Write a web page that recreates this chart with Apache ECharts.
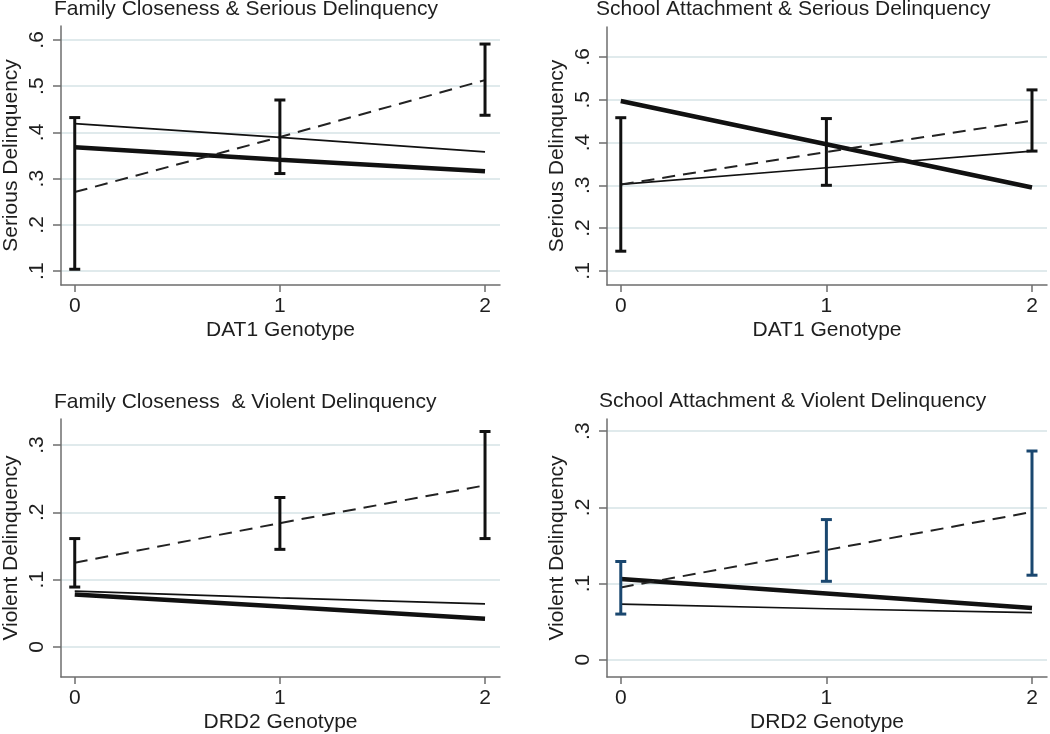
<!DOCTYPE html>
<html>
<head>
<meta charset="utf-8">
<title>Delinquency by genotype</title>
<script src="https://cdn.jsdelivr.net/npm/echarts@6/dist/echarts.min.js"></script>
<style>
  html, body { margin: 0; padding: 0; background: #fff; }
  #chart { width: 1050px; height: 734px; }
</style>
</head>
<body>
<div id="chart"></div>
<script>
// genotype categories (x axis)
const genotypes = [0, 1, 2];
const xTicks = [0, 1, 2];
const seriousTicks = [0.1, 0.2, 0.3, 0.4, 0.5, 0.6];
const violentTicks = [0, 0.1, 0.2, 0.3];

// Family Closeness & Serious Delinquency (DAT1)
const fcSeriousDashed = [0.271, 0.39, 0.513];
const fcSeriousThin = [0.419, 0.389, 0.358];
const fcSeriousThick = [0.368, 0.341, 0.316];
const fcSeriousLow = [0.104, 0.311, 0.437];
const fcSeriousHigh = [0.432, 0.47, 0.591];

// School Attachment & Serious Delinquency (DAT1)
const saSeriousDashed = [0.302, 0.378, 0.451];
const saSeriousThin = [0.302, 0.341, 0.38];
const saSeriousThick = [0.497, 0.396, 0.295];
const saSeriousLow = [0.146, 0.3, 0.38];
const saSeriousHigh = [0.458, 0.456, 0.523];

// Family Closeness & Violent Delinquency (DRD2)
const fcViolentDashed = [0.125, 0.184, 0.24];
const fcViolentThin = [0.083, 0.073, 0.064];
const fcViolentThick = [0.078, 0.06, 0.042];
const fcViolentLow = [0.089, 0.145, 0.161];
const fcViolentHigh = [0.161, 0.222, 0.32];

// School Attachment & Violent Delinquency (DRD2)
const saViolentDashed = [0.095, 0.144, 0.194];
const saViolentThin = [0.073, 0.067, 0.062];
const saViolentThick = [0.106, 0.087, 0.068];
const saViolentLow = [0.06, 0.103, 0.111];
const saViolentHigh = [0.129, 0.184, 0.274];

const font = '"Liberation Sans", Arial, sans-serif';
const textColor = "#1e1e1e";
const axisGrey = "#6e6e6e";
const gridColor = "#e0eaec";

const panels = [
  {
    title: "Family Closeness & Serious Delinquency",
    titlePos: { left: 54, top: -1 },
    grid: { left: 59, right: 550, top: 26, bottom: 449 },
    xName: "DAT1 Genotype", yName: "Serious Delinquency",
    yMin: 0.07, yMax: 0.63, yTicks: seriousTicks,
    dashed: fcSeriousDashed, thin: fcSeriousThin, thick: fcSeriousThick,
    low: fcSeriousLow, high: fcSeriousHigh, barColor: "#111111",
  },
  {
    title: "School Attachment & Serious Delinquency",
    titlePos: { left: 596, top: -1 },
    grid: { left: 607, right: 3, top: 27, bottom: 449 },
    xName: "DAT1 Genotype", yName: "Serious Delinquency",
    yMin: 0.067, yMax: 0.67, yTicks: seriousTicks,
    dashed: saSeriousDashed, thin: saSeriousThin, thick: saSeriousThick,
    low: saSeriousLow, high: saSeriousHigh, barColor: "#111111",
  },
  {
    title: "Family Closeness  & Violent Delinquency",
    titlePos: { left: 54, top: 392 },
    grid: { left: 59, right: 550, top: 419, bottom: 57 },
    xName: "DRD2 Genotype", yName: "Violent Delinquency",
    yMin: -0.0446, yMax: 0.3386, yTicks: violentTicks,
    dashed: fcViolentDashed, thin: fcViolentThin, thick: fcViolentThick,
    low: fcViolentLow, high: fcViolentHigh, barColor: "#111111",
  },
  {
    title: "School Attachment & Violent Delinquency",
    titlePos: { left: 599, top: 391 },
    grid: { left: 607, right: 3, top: 419, bottom: 57 },
    xName: "DRD2 Genotype", yName: "Violent Delinquency",
    yMin: -0.0226, yMax: 0.316, yTicks: violentTicks,
    dashed: saViolentDashed, thin: saViolentThin, thick: saViolentThick,
    low: saViolentLow, high: saViolentHigh, barColor: "#1a476f",
  },
];

// Stata style tick labels: ".1" instead of "0.1"
function stataLabel(v) {
  const s = String(Math.round(v * 10) / 10);
  return s.replace(/^0\./, ".");
}

function renderErrorBar(params, api) {
  const x = api.value(0);
  const lo = api.coord([x, api.value(1)]);
  const hi = api.coord([x, api.value(2)]);
  const half = 5.5;
  const style = { stroke: api.visual("color"), lineWidth: 3 };
  return {
    type: "group",
    children: [
      { type: "line", shape: { x1: lo[0], y1: lo[1], x2: hi[0], y2: hi[1] }, style },
      { type: "line", shape: { x1: hi[0] - half, y1: hi[1], x2: hi[0] + half, y2: hi[1] }, style },
      { type: "line", shape: { x1: lo[0] - half, y1: lo[1], x2: lo[0] + half, y2: lo[1] }, style },
    ],
  };
}

const pairs = (ys) => genotypes.map((g, i) => [g, ys[i]]);

const option = {
  animation: false,
  backgroundColor: "#fff",
  textStyle: { fontFamily: font },
  title: panels.map((p) => ({
    text: p.title,
    left: p.titlePos.left,
    top: p.titlePos.top,
    padding: 0,
    textStyle: { fontFamily: font, fontSize: 21, fontWeight: "normal", color: textColor },
  })),
  grid: panels.map((p) => ({ ...p.grid, containLabel: false })),
  xAxis: panels.map((p, i) => ({
    type: "value",
    gridIndex: i,
    min: -0.067,
    max: 2.073,
    name: p.xName,
    nameLocation: "middle",
    nameGap: 35,
    nameTextStyle: { fontFamily: font, fontSize: 21, color: textColor },
    axisLine: { show: true, onZero: false, lineStyle: { color: axisGrey, width: 1.5 } },
    axisTick: { show: true, length: 7, customValues: xTicks, lineStyle: { color: axisGrey, width: 1.5 } },
    axisLabel: { customValues: xTicks, margin: 11, fontFamily: font, fontSize: 21, color: textColor },
    splitLine: { show: false },
  })),
  yAxis: panels.map((p, i) => ({
    type: "value",
    gridIndex: i,
    min: p.yMin,
    max: p.yMax,
    name: p.yName,
    nameLocation: "middle",
    nameRotate: 90,
    nameGap: 39,
    nameTextStyle: { fontFamily: font, fontSize: 21, color: textColor },
    axisLine: { show: true, onZero: false, lineStyle: { color: axisGrey, width: 1.5 } },
    axisTick: { show: true, length: 8, customValues: p.yTicks, lineStyle: { color: axisGrey, width: 1.5 } },
    axisLabel: {
      customValues: p.yTicks,
      rotate: 90,
      margin: 13,
      fontFamily: font,
      fontSize: 21,
      color: textColor,
      formatter: stataLabel,
    },
    splitLine: { show: true, customValues: p.yTicks, lineStyle: { color: gridColor, width: 2 } },
  })),
  series: panels.flatMap((p, i) => [
    {
      type: "line",
      xAxisIndex: i, yAxisIndex: i,
      data: pairs(p.thin),
      symbol: "none",
      lineStyle: { color: "#111", width: 1.7 },
      z: 2,
    },
    {
      type: "line",
      xAxisIndex: i, yAxisIndex: i,
      data: pairs(p.thick),
      symbol: "none",
      lineStyle: { color: "#111", width: 4.5 },
      z: 2,
    },
    {
      type: "line",
      xAxisIndex: i, yAxisIndex: i,
      data: pairs(p.dashed),
      symbol: "none",
      lineStyle: { color: "#222", width: 2, type: [13, 8] },
      z: 2,
    },
    {
      type: "custom",
      xAxisIndex: i, yAxisIndex: i,
      data: genotypes.map((g, k) => [g, p.low[k], p.high[k]]),
      renderItem: renderErrorBar,
      itemStyle: { color: p.barColor },
      encode: { x: 0, y: [1, 2] },
      clip: false,
      z: 3,
    },
  ]),
};

const chart = echarts.init(document.getElementById("chart"), null, { renderer: "canvas" });
chart.setOption(option);
</script>
</body>
</html>
